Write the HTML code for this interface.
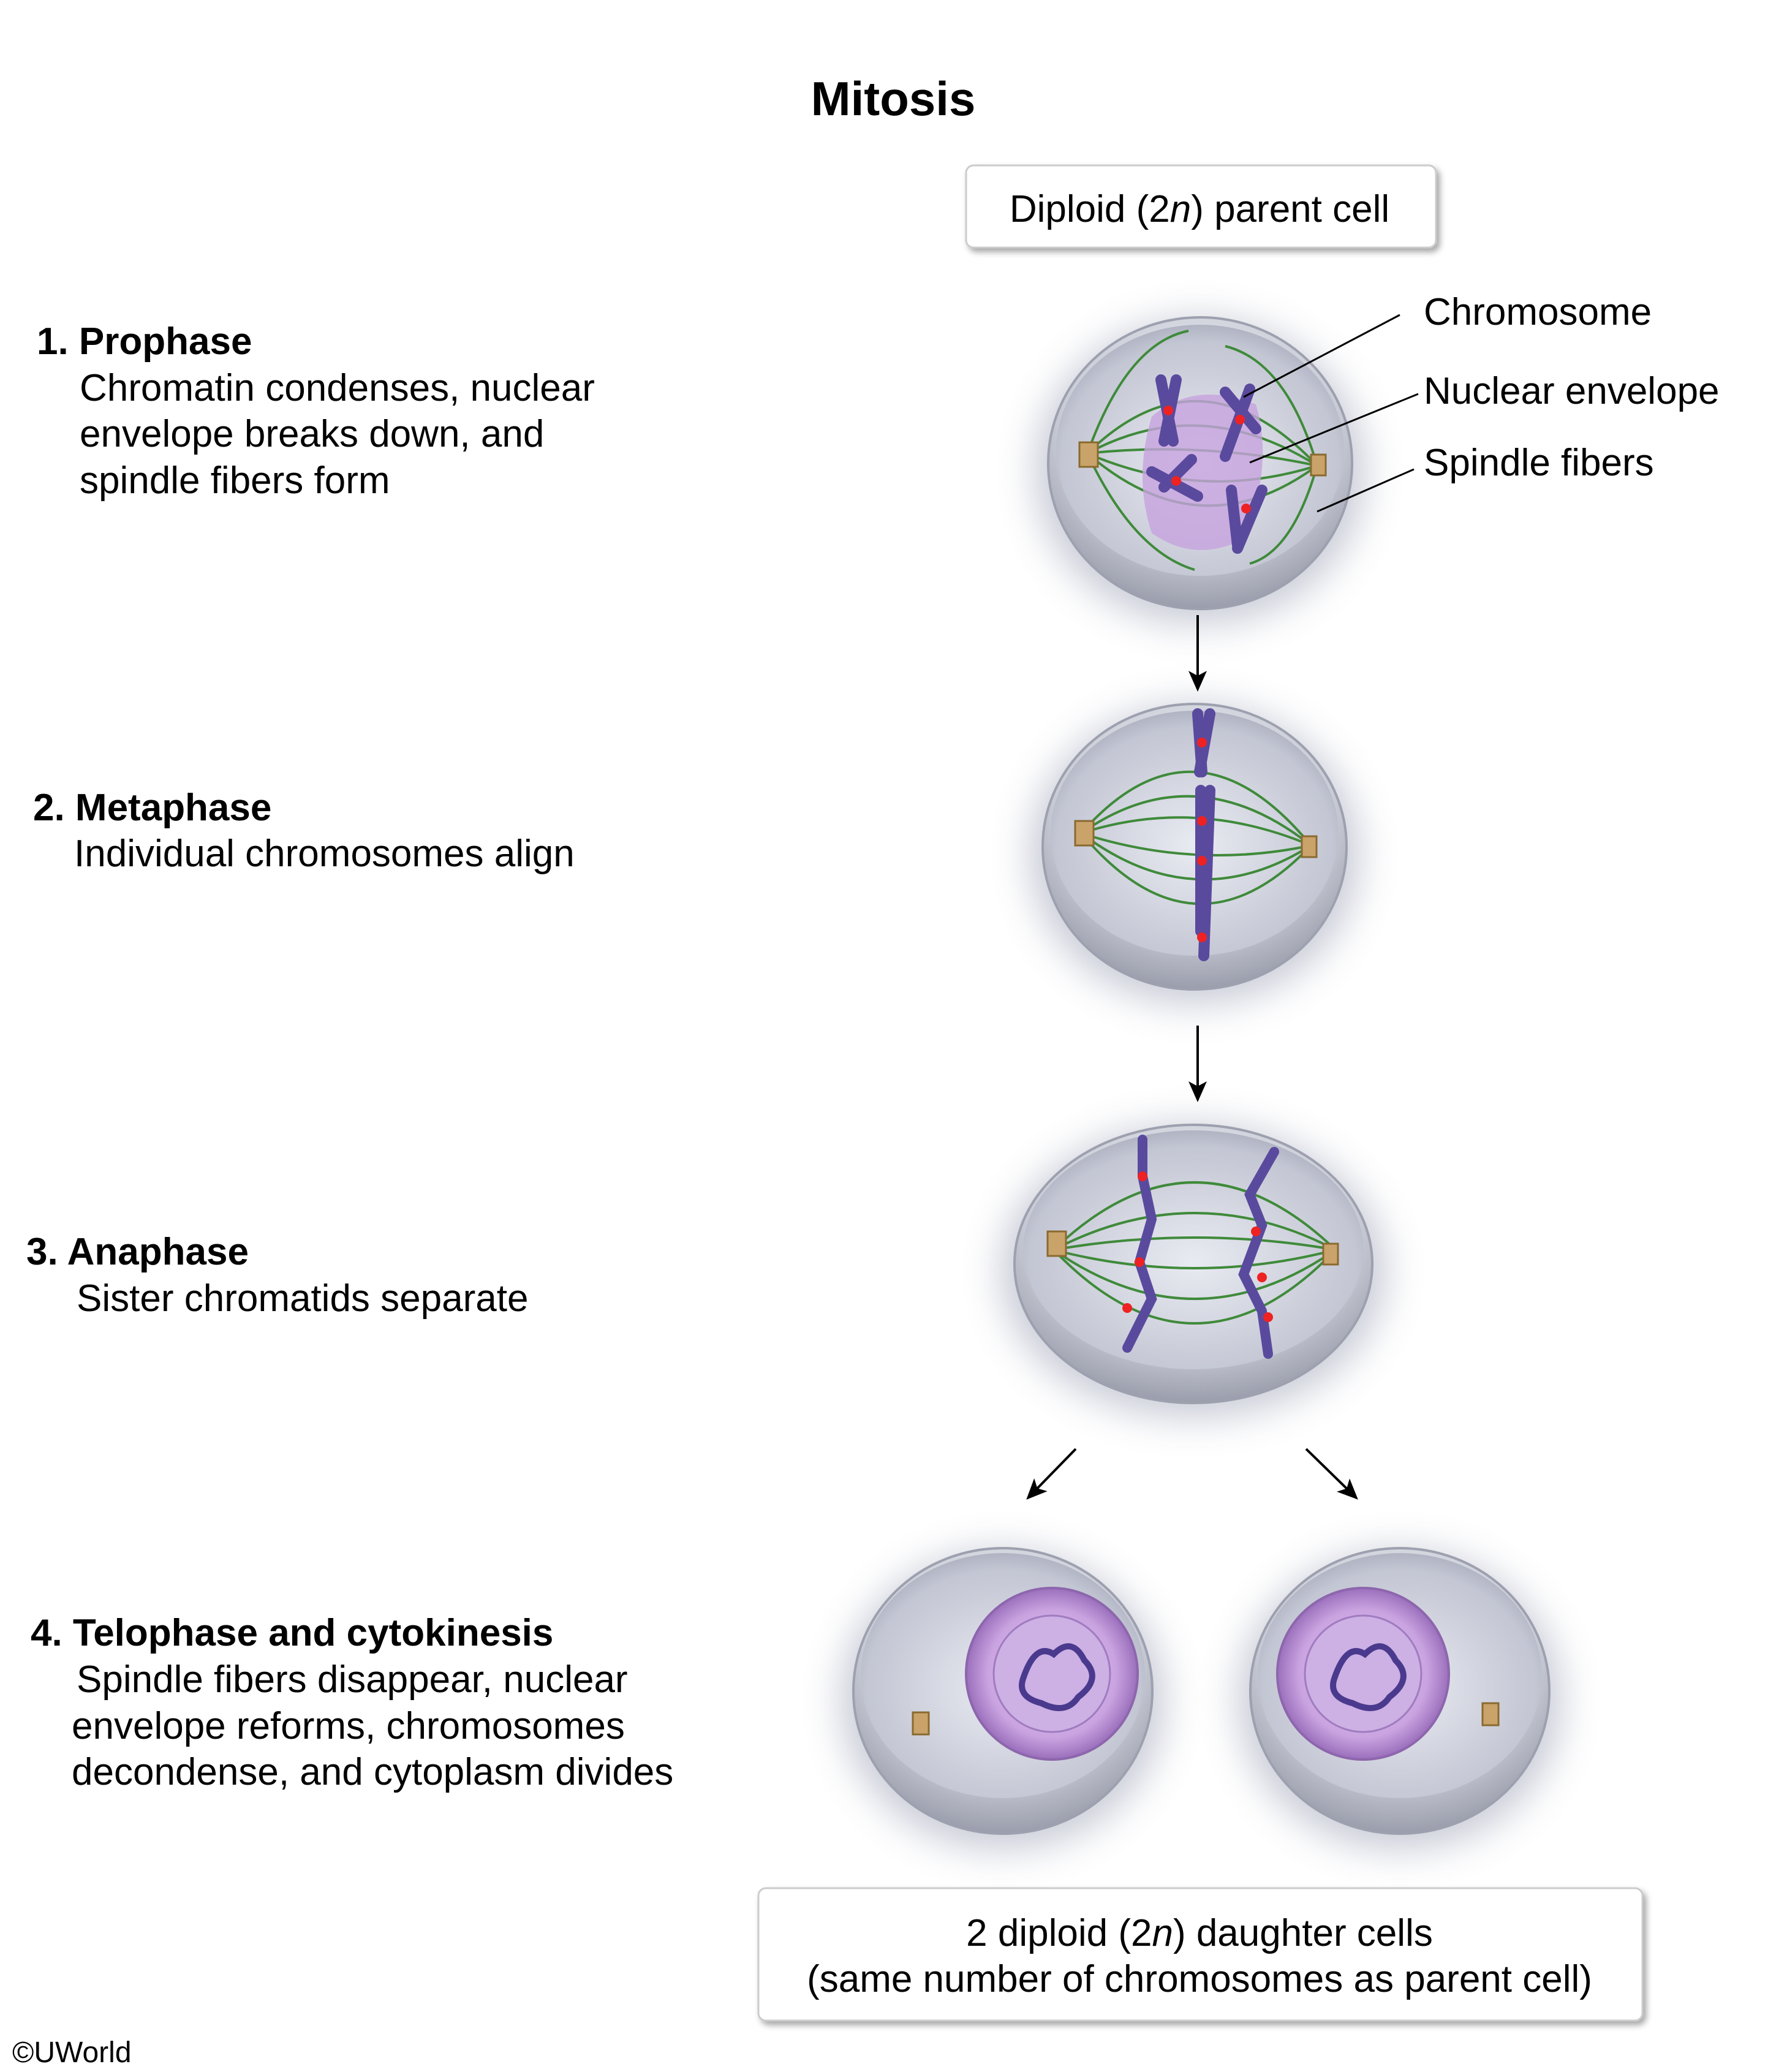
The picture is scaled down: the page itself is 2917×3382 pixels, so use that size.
<!DOCTYPE html>
<html><head><meta charset="utf-8"><style>
html,body{margin:0;padding:0;background:#fff;}
svg{display:block}
text{font-family:"Liberation Sans",Arial,sans-serif;fill:#000}
</style></head><body>
<svg width="2917" height="3382" viewBox="0 0 2917 3382" xmlns="http://www.w3.org/2000/svg">
<defs>
<radialGradient id="cell" cx="50%" cy="35%" r="65%">
<stop offset="0" stop-color="#f2f3f7"/><stop offset="0.7" stop-color="#c9ccd6"/><stop offset="1" stop-color="#9a9dab"/>
</radialGradient>
<radialGradient id="inner" cx="50%" cy="55%" r="60%">
<stop offset="0" stop-color="#e9ebf2"/><stop offset="0.8" stop-color="#c3c6d3"/><stop offset="1" stop-color="#a3a6b6"/>
</radialGradient>
<radialGradient id="nuc" cx="50%" cy="50%" r="50%">
<stop offset="0" stop-color="#e6d0f2"/><stop offset="0.75" stop-color="#c9a3e0"/><stop offset="1" stop-color="#9b6fbc"/>
</radialGradient>
<filter id="sh" x="-30%" y="-30%" width="160%" height="160%"><feGaussianBlur stdDeviation="30"/></filter>
<filter id="bs" x="-10%" y="-10%" width="130%" height="140%"><feDropShadow dx="5" dy="6" stdDeviation="5" flood-color="#000" flood-opacity="0.35"/></filter>
<marker id="ah" markerWidth="34" markerHeight="30" refX="30" refY="15" orient="auto" markerUnits="userSpaceOnUse" viewBox="0 0 34 30"><path d="M0,0 L34,15 L0,30 L8,15 Z" fill="#000"/></marker>
</defs>

<text x="1458" y="188" font-size="78" font-weight="bold" text-anchor="middle">Mitosis</text>

<rect x="1577" y="270" width="767" height="134" rx="12" fill="#fff" stroke="#ccc" stroke-width="3" filter="url(#bs)"/>
<text x="1958" y="362" font-size="62" text-anchor="middle">Diploid (2<tspan font-style="italic">n</tspan>) parent cell</text>

<g font-size="62">
<text x="60" y="578" font-weight="bold">1. Prophase</text>
<text x="130" y="654">Chromatin condenses, nuclear</text>
<text x="130" y="729">envelope breaks down, and</text>
<text x="130" y="805">spindle fibers form</text>
<text x="54" y="1339" font-weight="bold">2. Metaphase</text>
<text x="121" y="1414">Individual chromosomes align</text>
<text x="43" y="2064" font-weight="bold">3.  Anaphase</text>
<text x="125" y="2140">Sister chromatids separate</text>
<text x="50" y="2686" font-weight="bold">4. Telophase and cytokinesis</text>
<text x="125" y="2762">Spindle fibers disappear, nuclear</text>
<text x="117" y="2838">envelope reforms, chromosomes</text>
<text x="117" y="2913">decondense, and cytoplasm divides</text>
<text x="2324" y="530">Chromosome</text>
<text x="2324" y="659">Nuclear envelope</text>
<text x="2324" y="776">Spindle fibers</text>
</g>

<g fill="#8a8fa8" opacity="0.45" filter="url(#sh)">
<ellipse cx="1959" cy="770" rx="270" ry="250"/>
<ellipse cx="1950" cy="1395" rx="270" ry="245"/>
<ellipse cx="1948" cy="2075" rx="315" ry="240"/>
<ellipse cx="1637" cy="2775" rx="265" ry="245"/>
<ellipse cx="2285" cy="2775" rx="265" ry="245"/>
</g>

<g>
<ellipse cx="1959" cy="756" rx="248" ry="238" fill="url(#cell)" stroke="#9da0ae" stroke-width="4"/>
<ellipse cx="1959" cy="735" rx="235" ry="205" fill="url(#inner)"/>
<g fill="none" stroke="#3f8a3a" stroke-width="4">
<path d="M1775,740 Q1960,560 2150,760"/><path d="M1775,740 Q1960,640 2150,760"/><path d="M1775,740 Q1960,720 2150,760"/>
<path d="M1775,740 Q1960,820 2150,760"/><path d="M1775,740 Q1960,900 2150,760"/>
<path d="M1775,740 Q1840,560 1940,540"/><path d="M2150,760 Q2100,590 2000,565"/>
<path d="M1775,740 Q1850,900 1950,930"/><path d="M2150,760 Q2110,900 2040,920"/>
</g>
<path d="M1880,680 Q1950,620 2050,660 Q2080,760 2030,880 Q1950,920 1880,870 Q1850,780 1880,680Z" fill="#c7a2de" opacity="0.8"/>
<g stroke="#5a4a9e" stroke-width="18" stroke-linecap="round">
<line x1="1895" y1="620" x2="1915" y2="720"/><line x1="1920" y1="620" x2="1900" y2="720"/>
<line x1="2000" y1="640" x2="2050" y2="700"/><line x1="2040" y1="635" x2="2000" y2="745"/>
<line x1="1880" y1="770" x2="1955" y2="810"/><line x1="1900" y1="795" x2="1945" y2="750"/>
<line x1="2010" y1="800" x2="2020" y2="890"/><line x1="2060" y1="800" x2="2020" y2="895"/>
</g>
<g fill="#e22"><circle cx="1907" cy="670" r="8"/><circle cx="2024" cy="685" r="8"/><circle cx="1920" cy="785" r="8"/><circle cx="2034" cy="830" r="8"/></g>
<rect x="1762" y="722" width="30" height="40" fill="#c9a36a" stroke="#8a6a30" stroke-width="3"/>
<rect x="2140" y="742" width="24" height="34" fill="#c9a36a" stroke="#8a6a30" stroke-width="3"/>
</g>
<g stroke="#000" stroke-width="3">
<line x1="2285" y1="514" x2="2030" y2="648"/>
<line x1="2315" y1="643" x2="2040" y2="755"/>
<line x1="2308" y1="766" x2="2150" y2="835"/>
</g>

<line x1="1955" y1="1004" x2="1955" y2="1125" stroke="#000" stroke-width="4" marker-end="url(#ah)"/>

<g>
<ellipse cx="1950" cy="1382" rx="248" ry="233" fill="url(#cell)" stroke="#9da0ae" stroke-width="4"/>
<ellipse cx="1950" cy="1360" rx="235" ry="200" fill="url(#inner)"/>
<g fill="none" stroke="#3f8a3a" stroke-width="4">
<path d="M1765,1360 Q1950,1150 2140,1380"/><path d="M1765,1360 Q1950,1230 2140,1380"/><path d="M1765,1360 Q1950,1300 2140,1380"/>
<path d="M1765,1360 Q1950,1420 2140,1380"/><path d="M1765,1360 Q1950,1500 2140,1380"/><path d="M1765,1360 Q1950,1580 2140,1380"/>
</g>
<g stroke="#5a4a9e" stroke-width="18" stroke-linecap="round">
<line x1="1955" y1="1165" x2="1962" y2="1260"/><line x1="1975" y1="1165" x2="1958" y2="1260"/>
<line x1="1960" y1="1290" x2="1960" y2="1520"/><line x1="1975" y1="1290" x2="1965" y2="1560"/>
</g>
<g fill="#e22"><circle cx="1962" cy="1212" r="8"/><circle cx="1962" cy="1340" r="8"/><circle cx="1962" cy="1405" r="8"/><circle cx="1962" cy="1530" r="8"/></g>
<rect x="1755" y="1340" width="30" height="40" fill="#c9a36a" stroke="#8a6a30" stroke-width="3"/>
<rect x="2125" y="1365" width="24" height="34" fill="#c9a36a" stroke="#8a6a30" stroke-width="3"/>
</g>

<line x1="1955" y1="1674" x2="1955" y2="1795" stroke="#000" stroke-width="4" marker-end="url(#ah)"/>

<g>
<ellipse cx="1948" cy="2063" rx="292" ry="227" fill="url(#cell)" stroke="#9da0ae" stroke-width="4"/>
<ellipse cx="1948" cy="2040" rx="278" ry="195" fill="url(#inner)"/>
<g fill="none" stroke="#3f8a3a" stroke-width="4">
<path d="M1720,2040 Q1950,1820 2180,2040"/><path d="M1720,2040 Q1950,1920 2180,2040"/><path d="M1720,2040 Q1950,2000 2180,2040"/>
<path d="M1720,2040 Q1950,2100 2180,2040"/><path d="M1720,2040 Q1950,2200 2180,2040"/><path d="M1720,2040 Q1950,2280 2180,2040"/>
</g>
<g stroke="#5a4a9e" stroke-width="16" stroke-linecap="round" fill="none">
<path d="M1865,1860 L1865,1920 L1880,1990 L1860,2060 L1880,2120 L1840,2200"/>
<path d="M2080,1880 L2040,1950 L2060,2000 L2030,2080 L2060,2140 L2070,2210"/>
</g>
<g fill="#e22"><circle cx="1865" cy="1920" r="8"/><circle cx="1860" cy="2060" r="8"/><circle cx="1840" cy="2135" r="8"/><circle cx="2050" cy="2010" r="8"/><circle cx="2060" cy="2085" r="8"/><circle cx="2070" cy="2150" r="8"/></g>
<rect x="1710" y="2010" width="30" height="40" fill="#c9a36a" stroke="#8a6a30" stroke-width="3"/>
<rect x="2160" y="2030" width="24" height="34" fill="#c9a36a" stroke="#8a6a30" stroke-width="3"/>
</g>

<line x1="1756" y1="2365" x2="1678" y2="2445" stroke="#000" stroke-width="4" marker-end="url(#ah)"/>
<line x1="2132" y1="2365" x2="2214" y2="2445" stroke="#000" stroke-width="4" marker-end="url(#ah)"/>

<g>
<ellipse cx="1637" cy="2760" rx="244" ry="233" fill="url(#cell)" stroke="#9da0ae" stroke-width="4"/>
<ellipse cx="1637" cy="2735" rx="232" ry="200" fill="url(#inner)"/>
<circle cx="1717" cy="2732" r="140" fill="url(#nuc)" stroke="#8d66ad" stroke-width="4"/>
<circle cx="1717" cy="2732" r="95" fill="#cdb0e4" stroke="#a07cc0" stroke-width="3"/>
<path d="M1670,2740 q20,-60 50,-40 q30,-30 50,10 q30,30 -10,60 q-20,30 -60,10 q-40,-10 -30,-40z" fill="none" stroke="#4a3a8e" stroke-width="10"/>
<rect x="1490" y="2795" width="26" height="36" fill="#c9a36a" stroke="#8a6a30" stroke-width="3"/>

<ellipse cx="2285" cy="2760" rx="244" ry="233" fill="url(#cell)" stroke="#9da0ae" stroke-width="4"/>
<ellipse cx="2285" cy="2735" rx="232" ry="200" fill="url(#inner)"/>
<circle cx="2225" cy="2732" r="140" fill="url(#nuc)" stroke="#8d66ad" stroke-width="4"/>
<circle cx="2225" cy="2732" r="95" fill="#cdb0e4" stroke="#a07cc0" stroke-width="3"/>
<path d="M2178,2740 q20,-60 50,-40 q30,-30 50,10 q30,30 -10,60 q-20,30 -60,10 q-40,-10 -30,-40z" fill="none" stroke="#4a3a8e" stroke-width="10"/>
<rect x="2420" y="2780" width="26" height="36" fill="#c9a36a" stroke="#8a6a30" stroke-width="3"/>
</g>

<rect x="1238" y="3082" width="1443" height="216" rx="12" fill="#fff" stroke="#ccc" stroke-width="3" filter="url(#bs)"/>
<text x="1958" y="3176" font-size="62" text-anchor="middle">2 diploid (2<tspan font-style="italic">n</tspan>) daughter cells</text>
<text x="1958" y="3251" font-size="62" text-anchor="middle">(same number of chromosomes as parent cell)</text>

<text x="20" y="3366" font-size="48">©UWorld</text>
</svg>
</body></html>
